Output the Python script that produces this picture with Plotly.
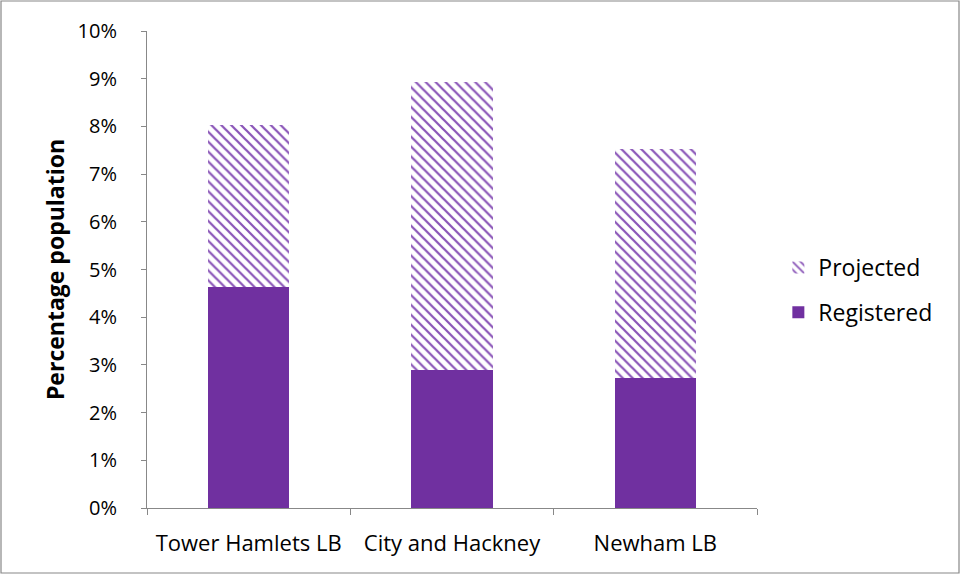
import plotly.graph_objects as go

categories = ["Tower Hamlets LB", "City and Hackney", "Newham LB"]
registered = [4.64, 2.89, 2.73]
projected = [3.38, 6.04, 4.79]
y_tick_values = [0, 1, 2, 3, 4, 5, 6, 7, 8, 9, 10]
y_tick_labels = ["0%", "1%", "2%", "3%", "4%", "5%", "6%", "7%", "8%", "9%", "10%"]

PURPLE = "#7030A0"
FONT = "Open Sans"

fig = go.Figure()
fig.add_trace(go.Bar(
    x=categories, y=registered, name="Registered", legendgroup="reg", legendrank=2,
    marker=dict(color=PURPLE, line=dict(width=0)),
))
fig.add_trace(go.Bar(
    x=categories, y=projected, name="Projected", legendgroup="proj", legendrank=1,
    marker=dict(color="white", line=dict(width=0),
                pattern=dict(shape="\\", fgcolor="#8a55b8", bgcolor="white",
                             size=7, solidity=0.32, fillmode="replace")),
))

L, R, T, B = 147, 204, 31, 67
W, H = 961, 575
pw, ph = W - L - R, H - T - B

fig.update_layout(
    width=W, height=H,
    barmode="stack", bargap=0.6,
    margin=dict(l=L, r=R, t=T, b=B, pad=0),
    paper_bgcolor="white", plot_bgcolor="white",
    font=dict(family=FONT, size=21, color="black"),
    showlegend=True,
    legend=dict(traceorder="grouped", x=1.035, xanchor="left", y=0.457, yanchor="middle",
                font=dict(size=23), itemwidth=30, tracegroupgap=12),
    xaxis=dict(showline=True, linecolor="#888888", linewidth=1,
               ticks="outside", tickson="boundaries", ticklen=6, tickcolor="#888888",
               showgrid=False, tickfont=dict(size=22), ticklabelstandoff=16),
    yaxis=dict(range=[0, 10], tickvals=y_tick_values, ticktext=y_tick_labels,
               showline=True, linecolor="#888888", linewidth=1,
               ticks="outside", ticklen=5, tickcolor="#888888",
               showgrid=False, zeroline=False, tickfont=dict(size=20), ticklabelstandoff=20,
               title=dict(text="<b>Percentage population</b>", font=dict(size=23), standoff=6)),
)

# outer border of chart area
x0 = (1 - L) / pw
x1 = (W - 2 - L) / pw
y1 = (H - B - 1) / ph
y0 = (H - B - (H - 2)) / ph
fig.add_shape(type="rect", xref="paper", yref="paper", x0=x0, x1=x1, y0=y0, y1=y1,
              line=dict(color="#888888", width=1.2), fillcolor="rgba(0,0,0,0)", layer="above")

fig.write_html("out.html", config={"displayModeBar": False},
               post_script="document.body.style.margin='0px';")
